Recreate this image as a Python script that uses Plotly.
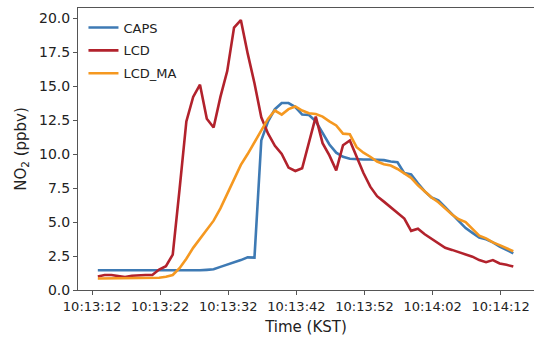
import pandas as pd
import plotly.graph_objects as go

# Sampling times (1 s resolution)
start_time = "2023-01-01 10:13:12.85"
n_points = 62
times = pd.date_range(start=start_time, periods=n_points, freq="1s")

caps = [1.45, 1.45, 1.45, 1.44, 1.43, 1.42, 1.42, 1.40, 1.40, 1.40,
        1.40, 1.40, 1.40, 1.40, 1.42, 1.45, 1.48, 1.52, 1.70, 1.86,
        2.00, 2.20, 2.40, 2.38, 11.0, 12.4, 13.3, 13.75, 13.75, 13.45,
        12.9, 12.87, 12.4, 11.5, 10.7, 10.1, 9.8, 9.65, 9.6, 9.6,
        9.6, 9.6, 9.55, 9.45, 9.4, 8.6, 8.5, 7.85, 7.25, 6.8,
        6.6, 6.1, 5.6, 5.05, 4.55, 4.2, 3.85, 3.73, 3.5, 3.2,
        2.95, 2.7]

lcd = [1.00, 1.10, 1.10, 1.00, 0.95, 1.05, 1.10, 1.10, 1.10, 1.50,
       1.75, 2.60, 7.40, 12.4, 14.2, 15.1, 12.6, 11.95, 14.2, 16.1,
       19.3, 19.85, 17.4, 15.2, 12.7, 11.5, 10.6, 10.0, 9.0, 8.75,
       8.95, 10.9, 12.75, 10.8, 9.9, 8.8, 10.65, 11.0, 9.8, 8.6,
       7.6, 6.9, 6.5, 6.1, 5.7, 5.25, 4.35, 4.5, 4.1, 3.75,
       3.45, 3.1, 2.95, 2.8, 2.65, 2.45, 2.2, 2.05, 2.2, 1.95,
       1.85, 1.72]

lcd_ma = [0.85, 0.85, 0.85, 0.85, 0.85, 0.85, 0.85, 0.85, 0.87, 0.90,
          0.98, 1.10, 1.60, 2.30, 3.10, 3.75, 4.40, 5.10, 6.00, 7.10,
          8.20, 9.20, 10.0, 10.9, 11.8, 12.6, 13.2, 12.9, 13.3, 13.5,
          13.2, 13.0, 12.95, 12.75, 12.4, 12.1, 11.5, 11.45, 10.5, 10.1,
          9.8, 9.45, 9.25, 9.15, 8.9, 8.6, 8.25, 7.7, 7.25, 6.8,
          6.45, 6.0, 5.55, 5.2, 5.0, 4.5, 4.0, 3.8, 3.5, 3.3,
          3.1, 2.85]

series_names = ["CAPS", "LCD", "LCD_MA"]
series_colors = ["rgb(62,122,180)", "rgb(178,34,44)", "rgb(245,152,32)"]
y_tick_values = [0, 2.5, 5, 7.5, 10, 12.5, 15, 17.5, 20]

fig = go.Figure()
for name, vals, col in zip(series_names, [caps, lcd, lcd_ma], series_colors):
    fig.add_trace(go.Scatter(x=times, y=vals, mode="lines", name=name,
                             legendgroup=name,
                             line=dict(color=col, width=2.6)))

font_family = "DejaVu Sans"
fig.update_layout(
    width=534, height=343,
    margin=dict(l=78, r=0, t=8, b=53),
    paper_bgcolor="white", plot_bgcolor="white",
    font=dict(family=font_family, color="#222"),
    showlegend=True,
    legend=dict(x=0.012, y=0.984, xanchor="left", yanchor="top",
                bgcolor="rgba(255,255,255,0)", borderwidth=0,
                font=dict(size=13, family=font_family, color="#222"),
                traceorder="grouped", tracegroupgap=3, itemwidth=30),
    xaxis=dict(
        type="date", automargin=False,
        range=["2023-01-01 10:13:09.94", "2023-01-01 10:14:16.89"],
        tick0="2023-01-01 10:13:12", dtick=10000, tickformat="%H:%M:%S",
        showgrid=False, zeroline=False,
        showline=True, linecolor="#555", linewidth=1, mirror=True,
        ticks="outside", ticklen=4, tickcolor="#555",
        tickfont=dict(size=13, family=font_family, color="#222"),
        title=dict(text="Time (KST)", font=dict(size=15, family=font_family, color="#222"),
                   standoff=8),
    ),
    yaxis=dict(
        range=[0, 20.74], automargin=False,
        tickvals=y_tick_values, tickformat=".1f",
        showgrid=False, zeroline=False,
        showline=True, linecolor="#555", linewidth=1, mirror=True,
        ticks="outside", ticklen=4, tickcolor="#555",
        tickfont=dict(size=14, family=font_family, color="#222"),
        title=dict(text="NO<sub>2</sub> (ppbv)", font=dict(size=15, family=font_family, color="#222"),
                   standoff=8),
    ),
)

fig.write_html("out.html",
               config={"displayModeBar": False},
               post_script="document.body.style.margin='0';document.body.style.overflow='hidden';")
